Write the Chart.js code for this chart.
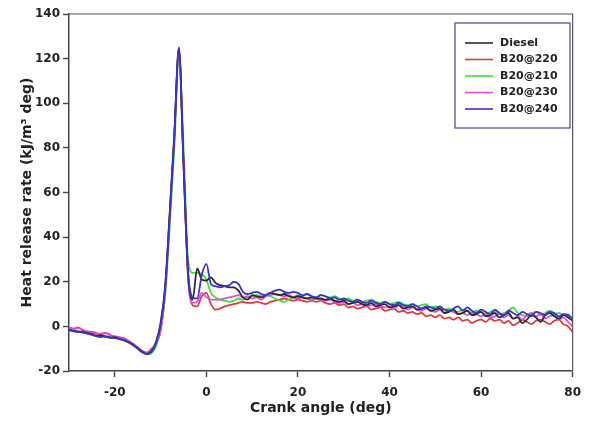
<!DOCTYPE html>
<html lang="en">
<head>
<meta charset="UTF-8">
<title>Heat release rate</title>
<script src="https://cdn.jsdelivr.net/npm/chart.js@4.4.0/dist/chart.umd.min.js"></script>
<style>
    html, body { margin: 0; padding: 0; background: #fff; }
    #wrap { width: 590px; height: 422px; }
</style>
</head>
<body>
<div id="wrap"><canvas id="hrrChart" width="590" height="422"></canvas></div>
<script>
// crank angle (deg)
const angles = [
    -30, -29, -28, -27, -26, -25, -24, -23, -22, -21,
    -20, -19, -18, -17, -16, -15, -14, -13, -12, -11,
    -10, -9, -8, -7, -6, -5, -4, -3, -2, -1,
    0, 1, 2, 3, 4, 5, 6, 7, 8, 9,
    10, 11, 12, 13, 14, 15, 16, 17, 18, 19,
    20, 21, 22, 23, 24, 25, 26, 27, 28, 29,
    30, 31, 32, 33, 34, 35, 36, 37, 38, 39,
    40, 41, 42, 43, 44, 45, 46, 47, 48, 49,
    50, 51, 52, 53, 54, 55, 56, 57, 58, 59,
    60, 61, 62, 63, 64, 65, 66, 67, 68, 69,
    70, 71, 72, 73, 74, 75, 76, 77, 78, 79,
    80
];

// heat release rate (kJ/m3 deg)
const diesel = [
    -1.5, -2, -2.3, -2.5, -3, -3.5, -4.3, -4, -4.6, -5,
    -4.8, -5.6, -6.2, -7, -8.3, -9.8, -11.4, -12.3, -11.2, -7,
    1.5, 18, 51, 86, 124.5, 74, 24, 12, 26, 21,
    20.5, 22, 19.5, 18.5, 18, 17.5, 17.5, 16, 13, 12,
    14, 13.5, 13, 14, 15, 14.5, 14, 14.5, 13.5, 13,
    13.5, 13, 12.5, 13, 12.5, 12.5, 12, 12.5, 11.5, 11,
    11.5, 10, 10.5, 11, 10, 9.5, 10.5, 9, 9.5, 10,
    8.5, 9, 9.5, 8, 8.5, 9, 7.5, 8, 8.5, 7,
    7.5, 8, 6, 6.5, 7.5, 5.5, 6, 7, 5, 5.5,
    6.5, 4.5, 5, 6, 4, 5, 6, 3.5, 4, 1.5,
    3, 5, 4, 2, 5, 6, 4.5, 3.5, 5, 4,
    2.5
];
const b20_220 = [
    -0.5, -1, -0.5, -1.8, -2.2, -2.5, -3, -3.5, -3, -4,
    -4.5, -5, -5.3, -6.5, -7.8, -9.5, -11, -11.8, -10, -8,
    -2, 15, 48, 84, 123, 73, 22, 9.5, 9, 13.5,
    15, 10, 7.5, 8, 9, 9.5, 10, 10.5, 11, 10.5,
    10.5, 11, 10.5, 10, 11, 11.5, 12, 12.5, 12, 11.5,
    12, 11.5, 11, 11.5, 11, 11.5, 10.5, 10, 10.5, 9.5,
    10, 8.5, 9, 8, 8.5, 9, 7.5, 8, 8.5, 7,
    7.5, 8, 6.5, 7, 6, 6.5, 5.5, 6, 4.5, 5,
    4, 5, 3.5, 4, 3, 4, 2.5, 3, 1.5, 2.5,
    3, 2, 3.5, 2.5, 3, 1.5, 2.5, 0.5, 1.5, 3,
    2, 1, 2.5, 3, 2, 1, 2.5, 3, 1, 0,
    -2.5
];
const b20_210 = [
    -1.5, -2, -2.4, -2.6, -3.1, -3.6, -4, -4.4, -4.6, -5,
    -5, -5.6, -6.2, -7, -8.4, -10, -11.6, -12.5, -12, -9,
    -0.5, 14, 45, 80, 122, 81, 30, 24, 24, 23.5,
    21, 15, 13, 12, 11.5, 11, 11.5, 12.5, 12, 13,
    13.5, 14, 13.5, 14, 13.5, 12.5, 11.5, 11, 12, 13,
    14, 13.5, 14.5, 13.5, 13, 14, 13.5, 13, 13.5, 12.5,
    12, 12.5, 11.5, 12, 11, 11.5, 12, 11, 10.5, 11,
    10, 10.5, 11, 10, 9.5, 10, 9, 9.5, 10, 8.5,
    9, 8, 7.5, 8, 7, 6.5, 7.5, 7, 6, 7,
    6.5, 5.5, 6.5, 7, 5.5, 6, 7, 8.5, 6, 5,
    4.5, 5.5, 6.5, 5, 6, 7, 5.5, 6, 5, 5.5,
    3.5
];
const b20_230 = [
    -0.5, -1.2, -0.8, -1.5, -2.5, -2.8, -3.5, -3.2, -2.8, -3.8,
    -4.5, -4.8, -5.5, -6.8, -8, -9.5, -11.2, -12, -10.5, -7.5,
    -1.5, 16, 49, 85, 124, 74, 23, 10.5, 11, 15,
    13, 12, 12, 12, 12.5, 13, 13.5, 14, 13, 13.5,
    12.5, 13, 12, 13.5, 14, 14.5, 14, 13.5, 14, 13,
    12.5, 13, 12.5, 12, 12.5, 12, 11.5, 12, 11, 10.5,
    11, 10, 10.5, 9.5, 10, 9, 9.5, 10, 9, 8.5,
    9, 8, 9.5, 8.5, 7.5, 8.5, 7.5, 7, 8, 7,
    6.5, 7.5, 6, 7, 6.5, 5.5, 6, 5, 6, 5.5,
    4.5, 5.5, 4, 4.5, 5.5, 4, 5, 3.5, 4.5, 3,
    5, 6, 4.5, 5.5, 3.5, 4.5, 5, 3, 4, 2,
    0
];
const b20_240 = [
    -1.8, -2.2, -2.5, -2.8, -3.2, -3.8, -4.5, -4.8, -4.4, -5,
    -5.3, -5.5, -6.3, -7.2, -8.5, -10, -11.6, -12.4, -11.5, -7.5,
    0.5, 17, 50, 85, 125, 75, 25, 13, 12.5, 23,
    28, 19, 18, 17.5, 18, 18.5, 20, 19, 15.5, 14.5,
    15, 15.5, 14.5, 14, 15, 16, 16.5, 15.5, 15, 15.5,
    15, 14, 14.5, 13.5, 13, 14, 13.5, 12.5, 13, 12,
    12.5, 11.5, 11, 12, 11, 10.5, 11.5, 10.5, 10, 11,
    10, 9.5, 10.5, 9.5, 9, 10, 9, 8, 9, 8.5,
    8, 9, 7.5, 7, 8, 9, 7, 8.5, 7, 6,
    7.5, 6.5, 5.5, 7.5, 6, 5, 7, 6, 5, 6.5,
    5.5, 4.5, 6.5, 6, 5, 6.5, 6, 4.5, 5.5, 5,
    3
];

const seriesNames = ['Diesel', 'B20@220', 'B20@210', 'B20@230', 'B20@240'];
const xTicks = [-20, 0, 20, 40, 60, 80];
const yTicks = [-20, 0, 20, 40, 60, 80, 100, 120, 140];

const seriesData = [diesel, b20_220, b20_210, b20_230, b20_240];
const seriesColors = ['#2a2a2a', '#dc3c3c', '#3ee03e', '#e04ee0', '#3a34c4'];
const drawOrder = [1, 4, 3, 2, 0];

const fontFamily = '"DejaVu Sans", "Liberation Sans", Arial, sans-serif';
const textColor = '#222';
const axisColor = '#444';

const datasets = seriesNames.map((name, k) => ({
    label: name,
    data: angles.map((a, i) => ({ x: a, y: seriesData[k][i] })),
    borderColor: seriesColors[k],
    borderWidth: 1.8,
    pointRadius: 0,
    fill: false,
    cubicInterpolationMode: 'monotone',
    order: drawOrder[k]
}));

// top and right border of the plot frame
const framePlugin = {
    id: 'frame',
    afterDraw(chart) {
        const { ctx, chartArea: a } = chart;
        ctx.save();
        ctx.strokeStyle = '#555';
        ctx.lineWidth = 1.2;
        ctx.beginPath();
        ctx.moveTo(a.left, a.top);
        ctx.lineTo(a.right, a.top);
        ctx.lineTo(a.right, a.bottom);
        ctx.stroke();
        ctx.restore();
    }
};

// boxed legend in the upper right corner
const boxLegend = {
    id: 'boxLegend',
    afterDraw(chart) {
        const ctx = chart.ctx;
        const left = 455, top = 23, w = 115, h = 105;
        ctx.save();
        ctx.fillStyle = '#fff';
        ctx.fillRect(left, top, w, h);
        ctx.strokeStyle = '#55558a';
        ctx.lineWidth = 1.3;
        ctx.strokeRect(left, top, w, h);
        ctx.font = 'bold 11px ' + fontFamily;
        ctx.textBaseline = 'middle';
        ctx.textAlign = 'left';
        seriesNames.forEach((name, k) => {
            const y = 43 + k * 16.5;
            ctx.strokeStyle = seriesColors[k];
            ctx.lineWidth = 1.6;
            ctx.beginPath();
            ctx.moveTo(465, y);
            ctx.lineTo(493, y);
            ctx.stroke();
            ctx.fillStyle = textColor;
            ctx.fillText(name, 500, y);
        });
        ctx.restore();
    }
};

const ctx = document.getElementById('hrrChart').getContext('2d');
const hrrChart = new Chart(ctx, {
    type: 'line',
    data: { datasets: datasets },
    options: {
        responsive: false,
        animation: false,
        layout: { padding: { top: 14, right: 12, left: 0, bottom: 0 } },
        plugins: {
            legend: { display: false },
            tooltip: { enabled: false }
        },
        scales: {
            x: {
                type: 'linear',
                min: -30,
                max: 80,
                afterBuildTicks: s => { s.ticks = xTicks.map(v => ({ value: v })); },
                afterFit: s => { s.height = 51; },
                grid: { drawOnChartArea: false, tickLength: 6, tickColor: axisColor, tickWidth: 1.4 },
                border: { color: axisColor, width: 1.5 },
                ticks: { font: { family: fontFamily, size: 12, weight: 'bold' }, color: textColor, padding: 9, maxRotation: 0 },
                title: {
                    display: true,
                    text: 'Crank angle (deg)',
                    font: { family: fontFamily, size: 14, weight: 'bold' },
                    color: textColor,
                    padding: { top: 0, bottom: 5 }
                }
            },
            y: {
                type: 'linear',
                min: -20,
                max: 140,
                afterBuildTicks: s => { s.ticks = yTicks.map(v => ({ value: v })); },
                afterFit: s => { s.width = 69; },
                grid: { drawOnChartArea: false, tickLength: 6, tickColor: axisColor, tickWidth: 1.4 },
                border: { color: axisColor, width: 1.5 },
                ticks: { font: { family: fontFamily, size: 12, weight: 'bold' }, color: textColor, padding: 3 },
                title: {
                    display: true,
                    text: 'Heat release rate (kJ/m\u00B3 deg)',
                    font: { family: fontFamily, size: 14, weight: 'bold' },
                    color: textColor,
                    padding: { top: 19, bottom: 0 }
                }
            }
        }
    },
    plugins: [framePlugin, boxLegend]
});
</script>
</body>
</html>
